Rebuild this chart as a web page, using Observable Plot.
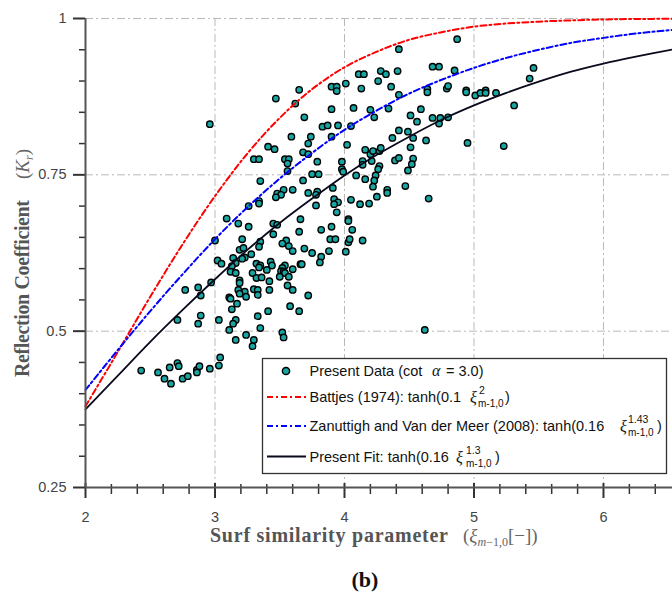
<!DOCTYPE html>
<html><head><meta charset="utf-8">
<script src="https://cdn.jsdelivr.net/npm/d3@7"></script>
<script src="https://cdn.jsdelivr.net/npm/@observablehq/plot@0.6"></script>
<style>
html,body{margin:0;padding:0;background:#fff;}
#chart{width:672px;height:555px;}
#caption{font-family:"Liberation Serif","DejaVu Serif",serif;font-weight:bold;font-size:22px;color:#111;text-align:center;width:672px;padding-left:58px;box-sizing:border-box;line-height:26px;margin-top:12px;}
</style></head><body>
<div id="chart"></div>
<div id="caption">(b)</div>
<script>
// ---- data ----
const ptX = [4.87,4.42,5.46,5.43,4.68,4.73,4.85,4.28,4.32,4.41,4.11,4.15,4.01,4.26,4.36,4.13,3.90,3.94,3.94,3.65,3.47,3.62,4.42,4.64,4.64,4.79,4.80,4.94,4.94,5.01,5.05,5.09,5.09,5.17,5.31,4.07,4.20,4.34,4.59,3.69,3.90,4.51,4.56,4.68,4.73,4.74,4.80,4.23,2.96,3.83,3.87,3.95,4.05,3.90,3.74,3.59,4.37,4.42,4.49,4.53,4.51,4.63,4.95,5.23,4.02,3.72,3.68,3.72,3.41,3.46,4.16,4.20,4.22,4.27,4.28,3.79,3.30,3.34,3.54,3.57,3.56,3.98,4.14,4.14,4.21,4.39,4.42,4.53,4.52,4.27,4.26,3.98,3.99,4.49,3.56,3.75,3.80,4.09,4.24,4.23,3.35,3.68,4.16,4.22,4.47,3.91,3.53,3.60,3.48,3.51,3.47,3.72,3.79,3.78,4.33,4.33,4.25,4.65,4.05,3.92,3.95,3.92,4.12,4.19,3.78,3.34,3.34,3.26,3.09,3.18,3.66,3.45,3.48,4.03,4.03,3.94,3.26,3.82,3.90,4.06,3.65,3.45,3.00,3.21,3.35,3.55,3.52,3.89,3.93,4.03,4.04,4.14,3.34,3.19,3.22,3.57,3.60,3.69,4.01,3.75,3.88,3.28,3.14,3.23,3.21,3.02,3.05,3.16,3.13,3.82,3.81,3.32,3.35,3.34,3.43,3.44,3.54,3.52,3.66,3.67,3.60,3.12,3.16,3.29,3.40,3.51,3.53,3.54,3.57,3.32,3.50,3.36,3.19,3.19,2.97,3.42,3.56,3.30,3.18,3.23,3.19,3.24,3.33,3.33,3.42,3.60,3.72,2.77,2.87,2.89,3.11,3.12,3.17,3.58,3.13,3.41,3.65,3.03,3.16,2.71,3.33,2.89,2.87,3.14,3.11,3.35,3.52,3.53,3.24,3.16,3.30,3.29,4.62,2.43,2.56,2.61,2.65,2.66,2.71,2.72,2.75,2.79,2.86,2.86,2.88,2.96,3.04,3.03];
const ptY = [0.967,0.951,0.921,0.904,0.923,0.923,0.917,0.916,0.911,0.916,0.911,0.911,0.896,0.900,0.891,0.888,0.891,0.891,0.884,0.886,0.872,0.864,0.878,0.887,0.882,0.888,0.892,0.885,0.882,0.877,0.881,0.885,0.881,0.881,0.861,0.857,0.854,0.856,0.855,0.842,0.855,0.845,0.835,0.841,0.832,0.841,0.842,0.842,0.831,0.827,0.829,0.829,0.828,0.811,0.811,0.811,0.809,0.821,0.819,0.809,0.794,0.805,0.801,0.796,0.798,0.800,0.786,0.783,0.795,0.791,0.790,0.783,0.788,0.788,0.793,0.771,0.775,0.775,0.775,0.775,0.768,0.771,0.772,0.766,0.772,0.773,0.777,0.776,0.767,0.764,0.759,0.759,0.755,0.757,0.756,0.751,0.751,0.749,0.749,0.741,0.740,0.741,0.743,0.731,0.732,0.729,0.726,0.726,0.720,0.718,0.714,0.721,0.723,0.718,0.726,0.721,0.715,0.712,0.710,0.711,0.706,0.703,0.703,0.704,0.701,0.708,0.704,0.700,0.680,0.672,0.679,0.672,0.670,0.679,0.676,0.690,0.667,0.662,0.667,0.662,0.659,0.655,0.645,0.647,0.643,0.645,0.640,0.647,0.647,0.642,0.647,0.645,0.635,0.630,0.633,0.636,0.628,0.632,0.627,0.625,0.628,0.623,0.617,0.618,0.616,0.613,0.608,0.609,0.604,0.619,0.610,0.608,0.605,0.602,0.611,0.605,0.605,0.601,0.607,0.607,0.599,0.595,0.593,0.593,0.598,0.596,0.595,0.593,0.587,0.585,0.587,0.586,0.581,0.577,0.578,0.580,0.573,0.567,0.566,0.563,0.560,0.555,0.566,0.558,0.566,0.566,0.557,0.566,0.570,0.557,0.554,0.552,0.544,0.540,0.535,0.532,0.532,0.518,0.518,0.518,0.524,0.525,0.512,0.512,0.502,0.505,0.498,0.490,0.494,0.486,0.486,0.476,0.502,0.437,0.434,0.424,0.442,0.416,0.449,0.444,0.424,0.428,0.438,0.434,0.444,0.440,0.458,0.445];

const curveX     = [2,2.25,2.5,2.75,3,3.25,3.5,3.75,4,4.25,4.5,4.75,5,5.25,5.5,5.75,6,6.25,6.55];
const battjesY   = [0.380,0.467,0.555,0.639,0.716,0.784,0.841,0.887,0.922,0.947,0.966,0.978,0.987,0.992,0.995,0.997,0.9985,0.9992,0.9996];
const zanuttighY = [0.406,0.470,0.532,0.591,0.647,0.698,0.744,0.785,0.822,0.853,0.880,0.902,0.921,0.937,0.950,0.961,0.969,0.976,0.982];
const fitY       = [0.375,0.429,0.483,0.534,0.583,0.630,0.673,0.712,0.749,0.782,0.811,0.838,0.861,0.881,0.899,0.915,0.928,0.939,0.951];

const xMajorTicks = [2,3,4,5,6];
const xTickLabels = ["2","3","4","5","6"];
const yMajorTicks = [0.25,0.5,0.75,1];
const yTickLabels = ["0.25","0.5","0.75","1"];
const xMinorTicks = [2.2,2.4,2.6,2.8,3.2,3.4,3.6,3.8,4.2,4.4,4.6,4.8,5.2,5.4,5.6,5.8,6.2,6.4];
const yMinorTicks = [0.3,0.35,0.4,0.45,0.55,0.6,0.65,0.7,0.8,0.85,0.9,0.95];

// ---- build ----
const points = ptX.map((x, i) => ({x, y: ptY[i]}));
const curveRows = (ys) => curveX.map((x, i) => ({x, y: ys[i]}));

const W = 672, H = 555, mT = 18, mR = 0, mB = 68, mL = 85;
const plotH = H - mT - mB, plotW = W - mL - mR;
const sans = "'Liberation Sans', Arial, Helvetica, sans-serif";
const serif = "'Liberation Serif', 'DejaVu Serif', serif";
const gridStyle = {stroke: "#b9b9b9", strokeWidth: 1, strokeDasharray: "8,3,2,3"};
const dashDot = "6,3,2,3";
const teal = "#17a6a2";
const tickColor = "#333";

const chart = Plot.plot({
  width: W, height: H,
  marginTop: mT, marginRight: mR, marginBottom: mB, marginLeft: mL,
  x: {domain: [2, 6.533], axis: null},
  y: {domain: [0.25, 1], axis: null},
  marks: [
    Plot.ruleX(xMajorTicks.slice(1), gridStyle),
    Plot.ruleY(yMajorTicks.slice(1), gridStyle),
    Plot.dot(points, {x: "x", y: "y", r: 3.2, fill: teal, stroke: "#000", strokeWidth: 1.4}),
    Plot.line(curveRows(battjesY), {x: "x", y: "y", stroke: "#ff0000", strokeWidth: 2, strokeDasharray: dashDot, curve: "catmull-rom"}),
    Plot.line(curveRows(zanuttighY), {x: "x", y: "y", stroke: "#0000ff", strokeWidth: 2, strokeDasharray: dashDot, curve: "catmull-rom"}),
    Plot.line(curveRows(fitY), {x: "x", y: "y", stroke: "#0a0a1e", strokeWidth: 1.8, curve: "catmull-rom"}),
    // tick marks: rules with pixel insets
    Plot.ruleX(xMajorTicks, {stroke: tickColor, strokeWidth: 2, insetTop: plotH - 4, insetBottom: -11}),
    Plot.ruleX(xMinorTicks, {stroke: tickColor, strokeWidth: 1.5, insetTop: plotH - 3, insetBottom: -7}),
    Plot.ruleY(yMajorTicks, {stroke: tickColor, strokeWidth: 2, insetLeft: -12, insetRight: plotW}),
    Plot.ruleY(yMinorTicks, {stroke: tickColor, strokeWidth: 1.5, insetLeft: -6, insetRight: plotW}),
    Plot.ruleY([0.25], {stroke: "#555", strokeWidth: 2}),
    Plot.ruleX([2], {stroke: "#555", strokeWidth: 2}),
    Plot.text(xMajorTicks, {x: d => d, y: () => 0.25, text: (d, i) => xTickLabels[i], dy: 30, fill: "#444", fontSize: 14.5, fontFamily: sans}),
    Plot.text(yMajorTicks, {x: () => 2, y: d => d, text: (d, i) => yTickLabels[i], dx: -19, textAnchor: "end", fill: "#444", fontSize: 14.5, fontFamily: sans})
  ]
});
document.getElementById("chart").appendChild(chart);

// ---- axis titles and legend ----
const svgEl = chart.tagName.toLowerCase() === "svg" ? chart : chart.querySelector("svg");
const svg = d3.select(svgEl);

// x-axis title
const xt = svg.append("g").attr("fill", "#555").attr("text-anchor", "start");
xt.append("text").attr("x", 210).attr("y", 542).attr("font-family", serif).attr("font-weight", "bold")
  .attr("font-size", 20).attr("textLength", 238).attr("lengthAdjust", "spacing").text("Surf similarity parameter");
const xm = xt.append("text").attr("x", 463).attr("y", 542).attr("font-family", serif).attr("font-size", 19).attr("fill", "#666");
xm.append("tspan").text("(");
xm.append("tspan").attr("font-style", "italic").text("ξ");
xm.append("tspan").attr("font-size", 12).attr("font-style", "italic").attr("dy", 4).text("m");
xm.append("tspan").attr("font-size", 12).text("−1,0");
xm.append("tspan").attr("dy", -4).text("[−])");

// y-axis title
const yt = svg.append("g").attr("transform", "translate(29,377) rotate(-90)").attr("fill", "#555").attr("text-anchor", "start");
yt.append("text").attr("x", 0).attr("y", 0).attr("font-family", serif).attr("font-weight", "bold")
  .attr("font-size", 20).attr("textLength", 177).attr("lengthAdjust", "spacing").text("Reflection Coefficient");
const ym = yt.append("text").attr("x", 198).attr("y", 0).attr("font-family", serif).attr("font-size", 19).attr("fill", "#666");
ym.append("tspan").text("(");
ym.append("tspan").attr("font-style", "italic").text("K");
ym.append("tspan").attr("font-size", 12).attr("font-style", "italic").attr("dy", 4).text("r");
ym.append("tspan").attr("dy", -4).text(")");

// legend
const lg = svg.append("g").attr("text-anchor", "start");
lg.append("rect").attr("x", 262.5).attr("y", 358.5).attr("width", 404).attr("height", 115)
  .attr("fill", "white").attr("stroke", "#333").attr("stroke-width", 1.3);
const rowsY = [371, 397, 426, 456.5];
lg.append("circle").attr("cx", 286).attr("cy", rowsY[0]).attr("r", 3.6).attr("fill", teal).attr("stroke", "#000").attr("stroke-width", 1.5);
const legLines = [["#ff0000", dashDot], ["#0000ff", dashDot], ["#0a0a1e", null]];
legLines.forEach(([c, da], i) => {
  const l = lg.append("line").attr("x1", 267).attr("x2", 306).attr("y1", rowsY[i + 1]).attr("y2", rowsY[i + 1])
    .attr("stroke", c).attr("stroke-width", 2);
  if (da) l.attr("stroke-dasharray", da);
});
function t(x, y, s, opts = {}) {
  const e = lg.append("text").attr("x", x).attr("y", y).attr("font-family", opts.family || sans)
    .attr("text-anchor", "start").attr("font-size", opts.size || 14.5).attr("fill", "#111").text(s);
  if (opts.italic) e.attr("font-style", "italic");
  return e;
}
const b = rowsY.map(v => v + 5);
t(309.5, b[0], "Present Data (cot");
t(432, b[0], "α", {family: serif, italic: true, size: 16});
t(446, b[0], "= 3.0)");
function eq(row, main, xXi, sup, xSup, xSub, xClose) {
  t(309.5, b[row], main);
  t(xXi, b[row] + 1, "ξ", {family: serif, italic: true, size: 16});
  t(xSup, b[row] - 8, sup, {size: 10.5});
  t(xSub, b[row] + 5, "m-1,0", {size: 10});
  t(xClose, b[row], ")");
}
eq(1, "Battjes (1974): tanh(0.1", 470, "2", 479, 478, 505);
eq(2, "Zanuttigh and Van der Meer (2008): tanh(0.16", 620, "1.43", 628, 628, 657);
eq(3, "Present Fit: tanh(0.16", 456, "1.3", 466, 466, 495);
</script></body></html>
